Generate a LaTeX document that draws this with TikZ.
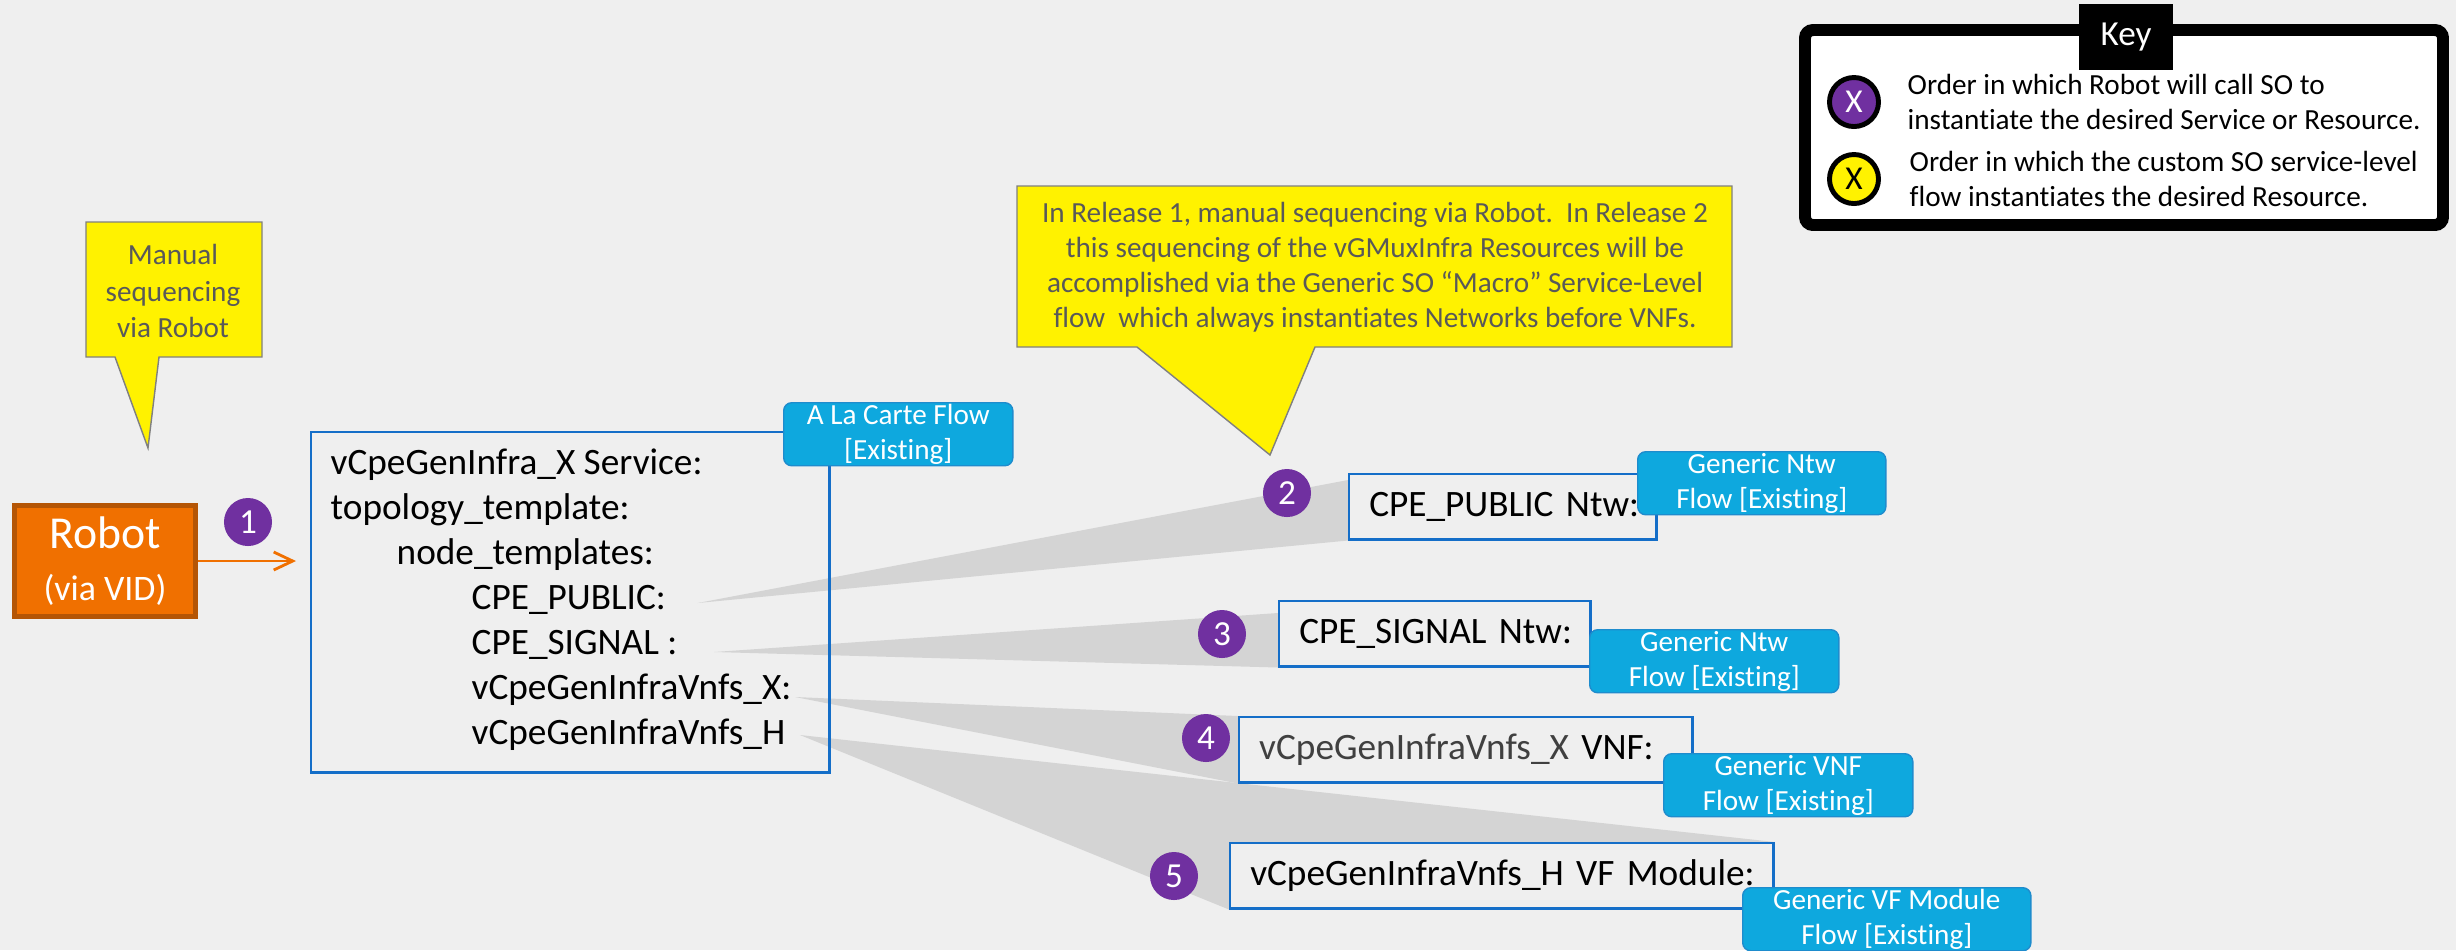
\documentclass[tikz,border=0pt]{standalone}
\usepackage{fontspec}
\setmainfont{Carlito}[Ligatures=NoCommon]
\usetikzlibrary{positioning,calc,arrows.meta,backgrounds}
\definecolor{bgcol}{RGB}{239,239,239}
\definecolor{orderpurple}{RGB}{112,48,160}
\definecolor{robotorange}{RGB}{240,112,0}
\definecolor{robotedge}{RGB}{180,85,5}
\definecolor{boxblue}{RGB}{20,110,200}
\definecolor{tagblue}{RGB}{14,168,222}
\definecolor{tagedge}{RGB}{30,140,205}
\definecolor{wedgegray}{RGB}{212,212,212}
\definecolor{notegray}{RGB}{89,89,89}
\definecolor{darktext}{RGB}{64,64,64}

\begin{document}
\begin{tikzpicture}[x=0.01cm, y=-0.01cm,
  bigtext/.style = {font=\fontsize{10.6}{12.8}\selectfont},
  smalltext/.style = {font=\fontsize{8.3}{9.8}\selectfont},
  order/.style = {circle, fill=orderpurple, text=white, minimum size=0.48cm,
    inner sep=0pt, font=\fontsize{10}{12}\selectfont},
  keydot/.style = {circle, draw=black, line width=1.4pt, minimum size=0.49cm,
    inner sep=0pt, font=\fontsize{9.5}{11}\selectfont},
  flowtag/.style = {rectangle, rounded corners=0.08cm, draw=tagedge, fill=tagblue,
    text=white, align=center, minimum width=#1, minimum height=0.63cm,
    inner sep=0pt, anchor=north west, smalltext},
  resource/.style = {rectangle, draw=boxblue, line width=0.7pt, fill=bgcol,
    anchor=north west, text width=#1, minimum height=0.65cm, inner xsep=0.2cm,
    inner ysep=0pt, align=left, bigtext},
  template/.style = {anchor=west, inner sep=0pt, bigtext},
  note/.style = {fill=yellow, draw=gray, line width=0.4pt},
  notetext/.style = {text=notegray, align=center, inner sep=0pt,
    font=\fontsize{8.3}{10}\selectfont},
  shadow/.style = {fill=wedgegray}]
  \useasboundingbox (0,0) rectangle (2456,950);

  \draw[note] (86,222) -- (262,222) -- (262,357) -- (159,357) -- (148,448)
    -- (115,357) -- (86,357) -- cycle;
  \node[notetext, font=\fontsize{8.3}{10.3}\selectfont] (manualnote) at (173,291)
    {Manual\\sequencing\\via Robot};

  \draw[note] (1017,186) -- (1732,186) -- (1732,347) -- (1315,347) -- (1270,455)
    -- (1137,347) -- (1017,347) -- cycle;
  \node[notetext] (macronote) at (1375,267)
    {In Release 1, manual sequencing via Robot.\ \ In Release 2\\
     this sequencing of the vGMuxInfra Resources will be\\
     accomplished via the Generic SO “Macro” Service-Level\\
     flow\ \ which always instantiates Networks before VNFs.};

  \draw[line width=3.4pt, rounded corners=0.08cm, fill=white] (1805,30) rectangle (2443,225);
  \node[fill=black, text=white, minimum width=0.93cm, minimum height=0.65cm,
    inner sep=0pt, font=\fontsize{10}{12}\selectfont] (keytitle) at (2126,37) {Key};
  \node[keydot, fill=orderpurple, text=white] (keyrobot) at (1854,102) {X};
  \node[keydot, fill=yellow] (keyflow) at (1854,179) {X};
  \node[right=0.26cm of keyrobot, inner sep=0pt, align=left, smalltext] (keyrobottext)
    {Order in which Robot will call SO to\\instantiate the desired Service or Resource.};
  \node[right=0.28cm of keyflow, inner sep=0pt, align=left, smalltext] (keyflowtext)
    {Order in which the custom SO service-level\\flow instantiates the desired Resource.};

  \node[fill=robotorange, draw=robotedge, line width=1.4pt, text=white,
    minimum width=1.81cm, minimum height=1.11cm, align=center, inner sep=0pt,
    font=\fontsize{13}{15}\selectfont] (robot) at (105,561)
    {Robot\\{\fontsize{10.2}{12}\selectfont (via VID)}};
  \coordinate (robotin) at (296,561);
  \draw[-{Straight Barb[length=0.19cm,width=0.18cm]}, robotorange, line width=0.8pt]
    (robot) -- (robotin);
  \node[order] (o1) at (248,522) {1};

  \node[draw=boxblue, line width=0.7pt, anchor=north west, minimum width=5.18cm,
    minimum height=3.4cm, inner sep=0pt] (service) at (310,431) {};
  \node[template] (lsvc) at (330,465) {vCpeGenInfra\_X Service:};
  \node[template] (ltop) at (330,510) {topology\_template:};
  \node[template] (lnode) at (396,555) {node\_templates:};
  \node[template] (lpub) at (471,600) {CPE\_PUBLIC:};
  \node[template] (lsig) at (471,645) {CPE\_SIGNAL :};
  \node[template] (lvnfx) at (471,690) {vCpeGenInfraVnfs\_X:};
  \node[template] (lvnfh) at (471,735) {vCpeGenInfraVnfs\_H};
  \node[flowtag=2.29cm] (alacarte) at (783,402) {A La Carte Flow\\ {[Existing]}};

  \node[resource=2.67cm] (pub) at (1348,473) {\mbox{CPE\_PUBLIC Ntw:}};
  \node[resource=2.71cm] (sig) at (1278,600) {\mbox{CPE\_SIGNAL Ntw:}};
  \node[resource=4.13cm] (vnf) at (1238,716)
    {\mbox{\textcolor{darktext}{vCpeGenInfraVnfs\_X} VNF:}};
  \node[resource=5.03cm] (vfm) at (1229,842) {\mbox{vCpeGenInfraVnfs\_H VF Module:}};

  \node[order] (o2) at (1287,493) {2};
  \node[order] (o3) at (1222,634) {3};
  \node[order] (o4) at (1206,738) {4};
  \node[order] (o5) at (1174,876) {5};

  \node[flowtag=2.48cm] (ntwpub) at (1637,451) {Generic Ntw\\Flow [Existing]};
  \node[flowtag=2.49cm] (ntwsig) at (1589,629) {Generic Ntw\\Flow [Existing]};
  \node[flowtag=2.49cm] (vnftag) at (1663,753) {Generic VNF\\Flow [Existing]};
  \node[flowtag=2.88cm] (vfmtag) at (1742,887) {Generic VF Module\\Flow [Existing]};

  \begin{pgfonlayer}{background}
    \fill[bgcol] (0,0) rectangle (2456,950);
    \fill[shadow] ($(lpub.east)+(31,3)$) -- ($(pub.north west)+(0,7)$) -- (pub.south west) -- cycle;
    \fill[shadow] ($(lsig.east)+(36,7)$) -- ($(sig.north west)+(0,13)$) -- (sig.south west) -- cycle;
    \fill[shadow] ($(lvnfx.east)+(3,7)$) -- (vnf.north west) -- (vnf.south west) -- cycle;
    \fill[shadow] ($(lvnfh.east)+(14,0)$) -- (vfm.north east) -- (vfm.south west) -- cycle;
  \end{pgfonlayer}
\end{tikzpicture}
\end{document}
